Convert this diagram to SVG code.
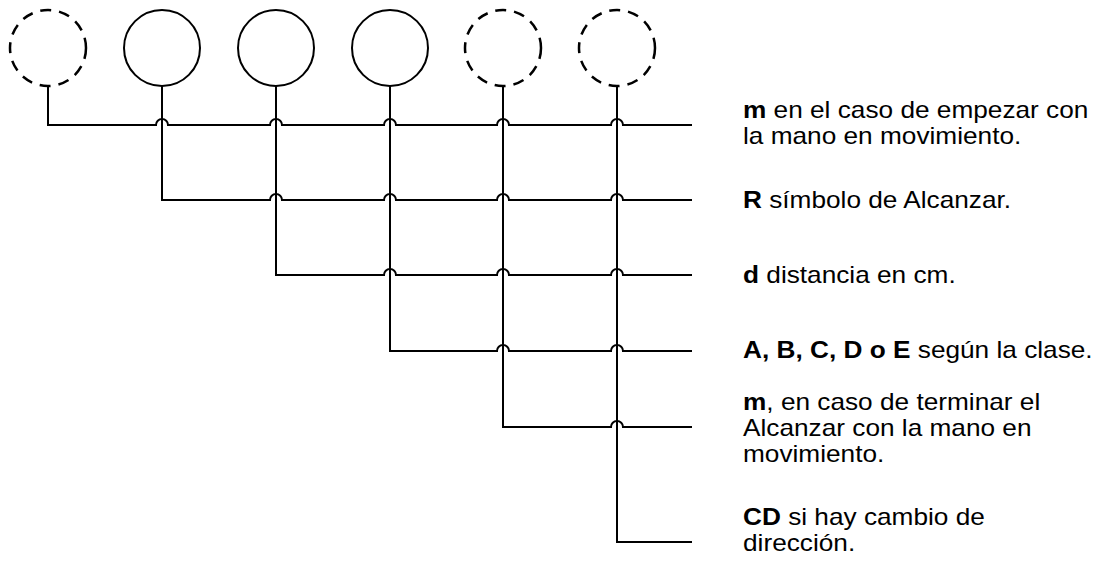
<svg xmlns="http://www.w3.org/2000/svg" width="1108" height="570" viewBox="0 0 1108 570">
<style>
.c{fill:none;stroke:#000;stroke-width:2}
.d{fill:none;stroke:#000;stroke-width:2.5;stroke-dasharray:11 8}
.w{fill:none;stroke:#000;stroke-width:2}
.t{font-family:"Liberation Sans",Arial,sans-serif;font-size:23px;fill:#000}
.b{font-weight:bold}
</style>
<rect width="1108" height="570" fill="#fff"/>
<g id="n1"><circle class="d" cx="48" cy="48" r="38"/></g>
<g id="n2"><circle class="c" cx="162" cy="48" r="38"/></g>
<g id="n3"><circle class="c" cx="276" cy="48" r="38"/></g>
<g id="n4"><circle class="c" cx="390" cy="48" r="38"/></g>
<g id="n5"><circle class="d" cx="503" cy="48" r="38"/></g>
<g id="n6"><circle class="d" cx="617" cy="48" r="38"/></g>
<g id="connectors">
<path class="w" d="M48 86V125H156A6 6 0 0 1 168 125H270A6 6 0 0 1 282 125H384A6 6 0 0 1 396 125H497A6 6 0 0 1 509 125H611A6 6 0 0 1 623 125H692"/>
<path class="w" d="M162 86V200H270A6 6 0 0 1 282 200H384A6 6 0 0 1 396 200H497A6 6 0 0 1 509 200H611A6 6 0 0 1 623 200H692"/>
<path class="w" d="M276 86V275H384A6 6 0 0 1 396 275H497A6 6 0 0 1 509 275H611A6 6 0 0 1 623 275H692"/>
<path class="w" d="M390 86V351H497A6 6 0 0 1 509 351H611A6 6 0 0 1 623 351H692"/>
<path class="w" d="M503 86V427H611A6 6 0 0 1 623 427H692"/>
<path class="w" d="M617 86V542H692"/>
</g>
<g id="labels" transform="translate(743 0) scale(1.14 1)">
<text class="t" x="0" y="118"><tspan class="b">m</tspan> en el caso de empezar con</text>
<text class="t" x="0" y="144">la mano en movimiento.</text>
<text class="t" x="0" y="208"><tspan class="b">R</tspan> símbolo de Alcanzar.</text>
<text class="t" x="0" y="283"><tspan class="b">d</tspan> distancia en cm.</text>
<text class="t" x="0" y="358"><tspan class="b">A, B, C, D o E</tspan> según la clase.</text>
<text class="t" x="0" y="410"><tspan class="b">m</tspan>, en caso de terminar el</text>
<text class="t" x="0" y="436">Alcanzar con la mano en</text>
<text class="t" x="0" y="462">movimiento.</text>
<text class="t" x="0" y="525"><tspan class="b">CD</tspan> si hay cambio de</text>
<text class="t" x="0" y="551">dirección.</text>
</g>
</svg>
